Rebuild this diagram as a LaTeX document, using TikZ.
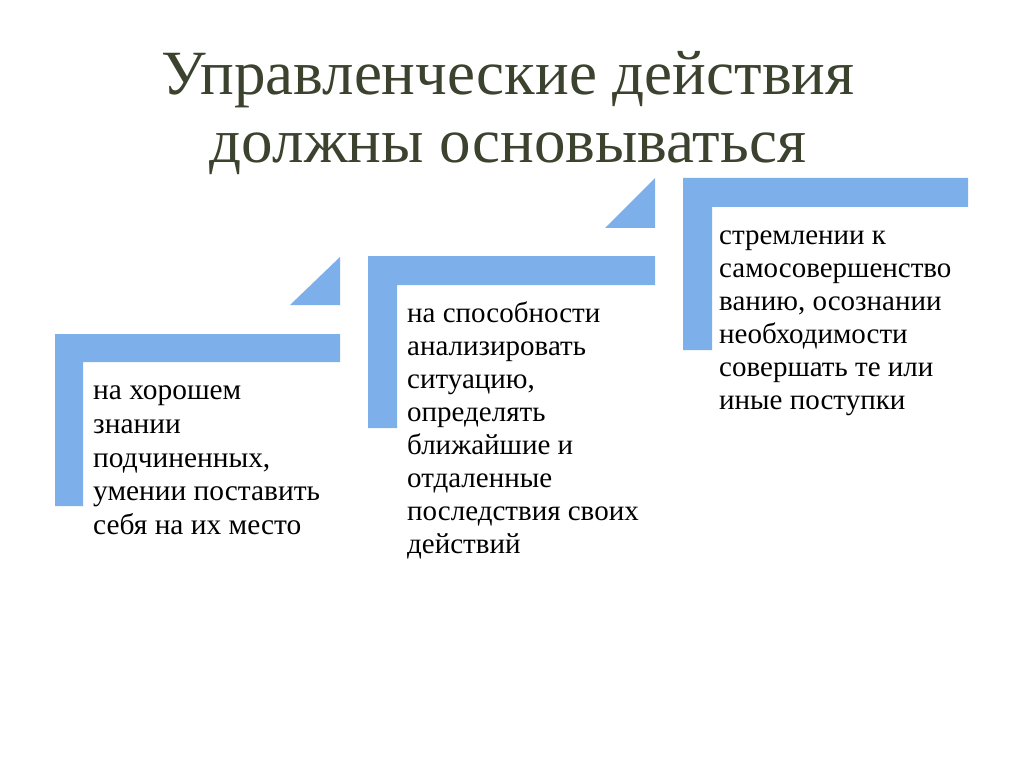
\documentclass[tikz,border=0pt]{standalone}
\usepackage{fontspec}
\setmainfont{Liberation Serif}
\definecolor{barblue}{RGB}{125,176,235}
\definecolor{titlecol}{RGB}{59,66,46}
\tikzset{
  bar/.style={fill=barblue, draw=none},
  blocktext/.style={anchor=north west, inner sep=0pt, align=left, text=black},
  titletext/.style={inner sep=0pt, text=titlecol, align=center, font=\fontsize{63}{68}\selectfont}
}
\begin{document}
\begin{tikzpicture}[x=1pt,y=-1pt]
\useasboundingbox (0,0) rectangle (1024,767);
\fill[white] (0,0) rectangle (1024,767);
% title (base anchor = baseline of last line)
\node[titletext, anchor=base] (title) at (508,163) {Управленческие действия\\должны основываться};
% shape 1
\fill[bar] (55,334) -- (340,334) -- (340,362) -- (83,362) -- (83,506) -- (55,506) -- cycle;
\fill[bar] (290,305) -- (340,305) -- (340,257) -- cycle;
% shape 2
\fill[bar] (368,256) -- (655,256) -- (655,285) -- (397,285) -- (397,428) -- (368,428) -- cycle;
\fill[bar] (605,228) -- (655,228) -- (655,178) -- cycle;
% shape 3
\fill[bar] (683,178) -- (968,178) -- (968,207) -- (712,207) -- (712,350) -- (683,350) -- cycle;
% texts
\node[blocktext, font=\fontsize{29.4}{33.7}\selectfont] (t1) at (93,376) {\strut на хорошем\\знании\\подчиненных,\\умении поставить\\себя на их место};
\node[blocktext, font=\fontsize{29}{33}\selectfont] (t2) at (407,299) {\strut на способности\\анализировать\\ситуацию,\\определять\\ближайшие и\\отдаленные\\последствия своих\\действий};
\node[blocktext, font=\fontsize{29}{33}\selectfont] (t3) at (719,221) {\strut стремлении к\\самосовершенство\\ванию, осознании\\необходимости\\совершать те или\\иные поступки};
\end{tikzpicture}
\end{document}
